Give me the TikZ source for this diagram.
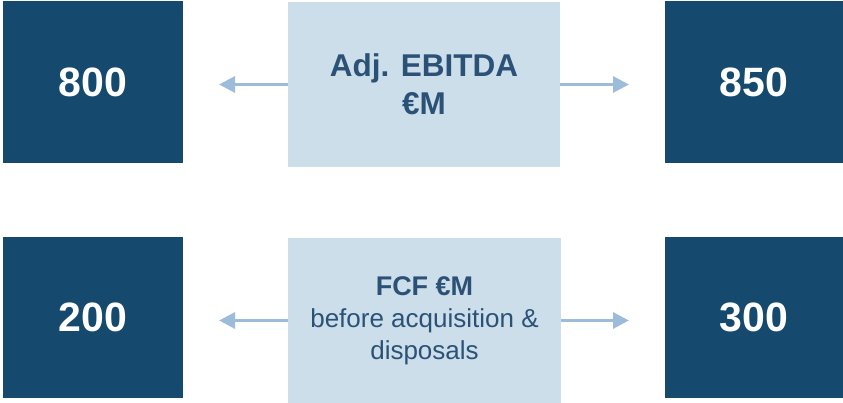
\documentclass[tikz,border=0pt]{standalone}
\usepackage{fontspec}
\setmainfont{Liberation Sans}
\usetikzlibrary{arrows.meta}
\definecolor{darkbox}{HTML}{154A6E}
\definecolor{lightbox}{HTML}{CCDEEA}
\definecolor{lighttext}{HTML}{2B5276}
\definecolor{arrowcol}{HTML}{9DBCDA}
\tikzset{
  valbox/.style={fill=darkbox, draw=none, inner sep=0pt, text=white,
    font=\fontsize{41}{49}\selectfont\bfseries},
  labbox/.style={fill=lightbox, draw=none, inner sep=0pt, text=lighttext, align=center,
    font=\fontsize{26}{32}\selectfont},
  conn/.style={draw=arrowcol, line width=3pt, -{Triangle[length=16pt,width=16pt]}}
}
\begin{document}
\begin{tikzpicture}[x=1pt,y=-1pt]
\useasboundingbox (0,0) rectangle (843,403);
% top row
\node[valbox, minimum width=180pt, minimum height=162pt] (v800) at (93,82) {800};
\node[valbox, minimum width=178pt, minimum height=162pt] (v850) at (754,82) {850};
\node[labbox, minimum width=272pt, minimum height=165pt,
  font=\fontsize{31.5}{38}\selectfont\bfseries] (ebitda) at (424,84.5) {Adj. EBITDA\\€M};
\coordinate (tl1) at (219,84.5);
\coordinate (tr1) at (629,84.5);
\draw[conn] (ebitda.west) -- (tl1);
\draw[conn] (ebitda.east) -- (tr1);
% bottom row
\node[valbox, minimum width=180pt, minimum height=161pt] (v200) at (93,317.5) {200};
\node[valbox, minimum width=178pt, minimum height=161pt] (v300) at (754,317.5) {300};
\node[labbox, minimum width=273pt, minimum height=165pt] (fcf) at (424.5,320.5)
  {{\fontsize{27}{32}\selectfont\bfseries FCF €M}\\before acquisition \&\\disposals};
\coordinate (tl2) at (219,320.5);
\coordinate (tr2) at (629,320.5);
\draw[conn] (fcf.west) -- (tl2);
\draw[conn] (fcf.east) -- (tr2);
\end{tikzpicture}
\end{document}
